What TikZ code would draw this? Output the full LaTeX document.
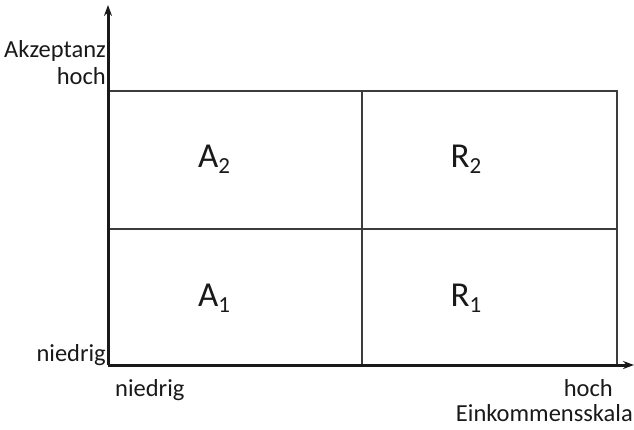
\documentclass[tikz,border=0pt]{standalone}
\usepackage{fontspec}
\setmainfont{Carlito}
\usetikzlibrary{arrows.meta, positioning}
\definecolor{tAxis}{RGB}{25, 25, 25}
\definecolor{tGrid}{RGB}{60, 60, 60}
\newcommand{\fieldsub}[1]{\raisebox{-6pt}{\fontsize{23}{23}\selectfont #1}}

\begin{document}
\begin{tikzpicture}[
    x=1pt, y=-1pt,
    font=\fontsize{24.5}{27}\selectfont,
    axis/.style={-{Stealth[length=11pt, width=8pt]}, line width=3pt, color=tAxis},
    gridline/.style={line width=1.1pt, color=tGrid},
    field/.style={font=\fontsize{35}{37}\selectfont, text=tAxis, inner sep=0pt, anchor=base},
    tick/.style={text=tAxis, inner sep=1pt}
]

\useasboundingbox (0, 0) rectangle (634, 429);

% corners of the grid
\coordinate (origin) at (108, 365);
\coordinate (ytop) at (108, 5);
\coordinate (xend) at (634, 365);
\coordinate (nw) at (108, 91);
\coordinate (ne) at (617, 91);
\coordinate (se) at (617, 365);
\coordinate (mw) at (108, 229);
\coordinate (me) at (617, 229);
\coordinate (mn) at (362, 91);
\coordinate (ms) at (362, 365);

% grid
\draw[gridline] (nw) -- (ne) -- (se);
\draw[gridline] (mw) -- (me);
\draw[gridline] (mn) -- (ms);

% axes
\draw[axis] (origin) -- (ytop);
\draw[axis] (origin) -- (xend);

% fields
\node[field] (a2) at (214, 167) {A\fieldsub{2}};
\node[field] (r2) at (466, 167) {R\fieldsub{2}};
\node[field] (a1) at (214, 306) {A\fieldsub{1}};
\node[field] (r1) at (466, 306) {R\fieldsub{1}};

% axis labels
\node[tick, anchor=base east] (yname) at (107, 57) {Akzeptanz};
\node[tick, anchor=base east] (yhigh) at (107, 84) {hoch};
\node[tick, anchor=base east] (ylow) at (107, 361) {niedrig};
\node[tick, anchor=base west] (xlow) at (114, 396) {niedrig};
\node[tick, anchor=base east] (xhigh) at (614, 396) {hoch};
\node[tick, anchor=base east] (xname) at (634, 421) {Einkommensskala};

\end{tikzpicture}
\end{document}
